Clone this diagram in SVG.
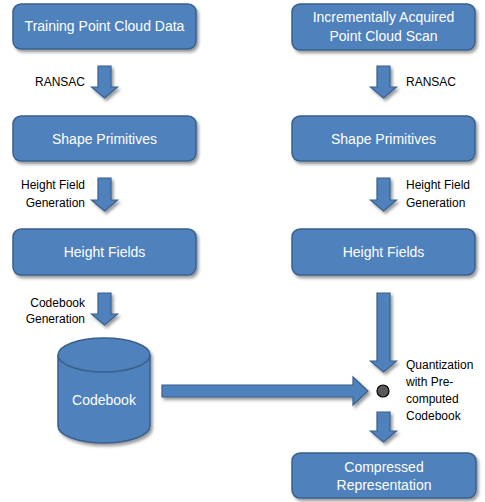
<svg xmlns="http://www.w3.org/2000/svg" width="485" height="502" viewBox="0 0 485 502">
<defs>
<filter id="sh" x="-10%" y="-10%" width="125%" height="140%">
<feDropShadow dx="2" dy="2.5" stdDeviation="1.5" flood-color="#000" flood-opacity="0.4"/>
</filter>
</defs>
<style>
.box{fill:#4F81BD;stroke:#3A5F8B;stroke-width:1.5;filter:url(#sh)}
.bt{font-family:"Liberation Sans",Arial,sans-serif;font-size:14px;fill:#fff;text-anchor:middle}
.lb{font-family:"Liberation Sans",Arial,sans-serif;font-size:12px;fill:#000}
.r{text-anchor:end}
.arr{fill:#4F81BD;stroke:#3A5F8B;stroke-width:1.2;filter:url(#sh)}
</style>
<rect width="485" height="502" fill="#fff"/>
<g id="n-training">
<rect class="box" x="13" y="4" width="183" height="45" rx="8"/>
<text class="bt" x="104.5" y="31">Training Point Cloud Data</text>
</g>
<g id="n-incremental">
<rect class="box" x="292" y="4" width="183" height="46" rx="8"/>
<text class="bt" x="383.5" y="22">Incrementally Acquired</text>
<text class="bt" x="383.5" y="41">Point Cloud Scan</text>
</g>
<g id="n-shape-left">
<rect class="box" x="13" y="116" width="183" height="45" rx="8"/>
<text class="bt" x="104.5" y="144">Shape Primitives</text>
</g>
<g id="n-shape-right">
<rect class="box" x="292" y="116" width="183" height="45" rx="8"/>
<text class="bt" x="383.5" y="144">Shape Primitives</text>
</g>
<g id="n-height-left">
<rect class="box" x="13" y="229" width="183" height="46" rx="8"/>
<text class="bt" x="104.5" y="257">Height Fields</text>
</g>
<g id="n-height-right">
<rect class="box" x="292" y="229" width="183" height="46" rx="8"/>
<text class="bt" x="383.5" y="257">Height Fields</text>
</g>
<g id="n-codebook">
<path class="box" d="M58,355 A46,17 0 0 1 150,355 V426 A46,17 0 0 1 58,426 Z"/>
<path d="M58,355 A46,17 0 0 0 150,355" fill="none" stroke="#3A5F8B" stroke-width="1.5"/>
<text class="bt" x="104" y="405">Codebook</text>
</g>
<g id="n-quant">
<circle cx="383" cy="391" r="6" fill="#595959" stroke="#000" stroke-width="1.2"/>
<text class="lb" x="406" y="369">Quantization</text>
<text class="lb" x="406" y="386">with Pre-</text>
<text class="lb" x="406" y="403">computed</text>
<text class="lb" x="406" y="420">Codebook</text>
</g>
<g id="n-compressed">
<rect class="box" x="292" y="453" width="184" height="45" rx="8"/>
<text class="bt" x="384" y="472">Compressed</text>
<text class="bt" x="384" y="490">Representation</text>
</g>
<g id="connectors">
<polygon class="arr" points="98,66 111,66 111,87 117.5,87 104.5,98 91.5,87 98,87"/>
<polygon class="arr" points="98,178 111,178 111,200 117.5,200 104.5,211 91.5,200 98,200"/>
<polygon class="arr" points="98,293 111,293 111,314 117.5,314 104.5,325 91.5,314 98,314"/>
<polygon class="arr" points="377,66 390,66 390,87 396.5,87 383.5,98 370.5,87 377,87"/>
<polygon class="arr" points="377,178 390,178 390,200 396.5,200 383.5,211 370.5,200 377,200"/>
<polygon class="arr" points="377,293 390,293 390,361 396.5,361 383.5,372 370.5,361 377,361"/>
<polygon class="arr" points="377,412 390,412 390,431 396.5,431 383.5,442 370.5,431 377,431"/>
<polygon class="arr" points="162,385 353,385 353,377 368,391 353,405 353,397 162,397"/>
<text class="lb r" x="85" y="86">RANSAC</text>
<text class="lb" x="406" y="86">RANSAC</text>
<text class="lb r" x="85" y="189">Height Field</text>
<text class="lb r" x="85" y="207">Generation</text>
<text class="lb" x="406" y="189">Height Field</text>
<text class="lb" x="406" y="207">Generation</text>
<text class="lb r" x="85" y="307">Codebook</text>
<text class="lb r" x="85" y="323">Generation</text>
</g>
</svg>
